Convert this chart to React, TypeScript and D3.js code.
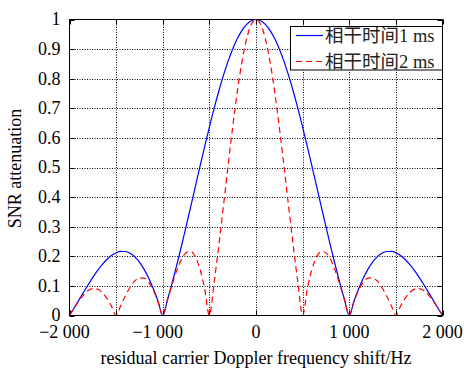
import React from "react";
import * as d3 from "d3";

// Frequency samples (Hz)
const freqs: number[] = [
  -2000, -1950, -1900, -1850, -1800, -1750, -1700, -1650, -1600, -1550,
  -1500, -1450, -1400, -1350, -1300, -1250, -1200, -1150, -1100, -1050,
  -1000, -950, -900, -850, -800, -750, -700, -650, -600, -550,
  -500, -450, -400, -350, -300, -250, -200, -150, -100, -50,
  0, 50, 100, 150, 200, 250, 300, 350, 400, 450,
  500, 550, 600, 650, 700, 750, 800, 850, 900, 950,
  1000, 1050, 1100, 1150, 1200, 1250, 1300, 1350, 1400, 1450,
  1500, 1550, 1600, 1650, 1700, 1750, 1800, 1850, 1900, 1950, 2000,
];

// Coherent time 1 ms
const snr1ms: number[] = [
  0, 0.0255, 0.0518, 0.0781, 0.1039, 0.1286, 0.1515, 0.1719, 0.1892, 0.2028,
  0.2122, 0.2168, 0.2162, 0.2101, 0.1981, 0.1801, 0.1559, 0.1257, 0.0894, 0.0474,
  0, 0.0524, 0.1093, 0.17, 0.2339, 0.3001, 0.3679, 0.4363, 0.5046, 0.5716,
  0.6366, 0.6987, 0.7568, 0.8103, 0.8584, 0.9003, 0.9355, 0.9634, 0.9836, 0.9959,
  1, 0.9959, 0.9836, 0.9634, 0.9355, 0.9003, 0.8584, 0.8103, 0.7568, 0.6987,
  0.6366, 0.5716, 0.5046, 0.4363, 0.3679, 0.3001, 0.2339, 0.17, 0.1093, 0.0524,
  0, 0.0474, 0.0894, 0.1257, 0.1559, 0.1801, 0.1981, 0.2101, 0.2162, 0.2168,
  0.2122, 0.2028, 0.1892, 0.1719, 0.1515, 0.1286, 0.1039, 0.0781, 0.0518, 0.0255, 0,
];

// Coherent time 2 ms
const snr2ms: number[] = [
  0, 0.0252, 0.0492, 0.0696, 0.0841, 0.0909, 0.089, 0.078, 0.0585, 0.0317,
  0, 0.0339, 0.0668, 0.0954, 0.1164, 0.1273, 0.1261, 0.112, 0.085, 0.0468,
  0, 0.0518, 0.1039, 0.1515, 0.1892, 0.2122, 0.2162, 0.1981, 0.1559, 0.0894,
  0, 0.1093, 0.2339, 0.3679, 0.5046, 0.6366, 0.7568, 0.8584, 0.9355, 0.9836,
  1, 0.9836, 0.9355, 0.8584, 0.7568, 0.6366, 0.5046, 0.3679, 0.2339, 0.1093,
  0, 0.0894, 0.1559, 0.1981, 0.2162, 0.2122, 0.1892, 0.1515, 0.1039, 0.0518,
  0, 0.0468, 0.085, 0.112, 0.1261, 0.1273, 0.1164, 0.0954, 0.0668, 0.0339,
  0, 0.0317, 0.0585, 0.078, 0.089, 0.0909, 0.0841, 0.0696, 0.0492, 0.0252, 0,
];

const xTickLabels: [number, string][] = [
  [-2000, "\u22122 000"],
  [-1000, "\u22121 000"],
  [0, "0"],
  [1000, "1 000"],
  [2000, "2 000"],
];
const xGrid: number[] = [-2000, -1500, -1000, -500, 0, 500, 1000, 1500, 2000];
const yTicks: number[] = [0, 0.1, 0.2, 0.3, 0.4, 0.5, 0.6, 0.7, 0.8, 0.9, 1];

const seriesNames: string[] = ["相干时间1 ms", "相干时间2 ms"];
const xTitle = "residual carrier Doppler frequency shift/Hz";
const yTitle = "SNR attenuation";

const W = 464;
const H = 369;
const L = 69.5, R = 442.5, T = 19.5, B = 315.5;
const FONT = "'Liberation Serif', 'Times New Roman', 'Noto Sans CJK SC', serif";

export default function App() {
  const x = d3.scaleLinear().domain([-2000, 2000]).range([L, R]);
  const y = d3.scaleLinear().domain([0, 1]).range([B, T]);
  const line = d3
    .line<number>()
    .x((_, i) => x(freqs[i]))
    .y((d) => y(d))
    .curve(d3.curveMonotoneX);

  const tickLen = 5;
  return (
    <svg
      width={W}
      height={H}
      style={{ position: "absolute", left: 0, top: 0, background: "#fff" }}
      fontFamily={FONT}
    >
      <rect x={0} y={0} width={W} height={H} fill="#fff" />
      {/* grid */}
      {xGrid.slice(1, -1).map((v) => (
        <line key={"gx" + v} x1={Math.round(x(v)) + 0.5} x2={Math.round(x(v)) + 0.5} y1={T} y2={B}
          stroke="#000" strokeWidth={1} strokeDasharray="1,1.5" />
      ))}
      {yTicks.slice(1, -1).map((v) => (
        <line key={"gy" + v} y1={Math.round(y(v)) + 0.5} y2={Math.round(y(v)) + 0.5} x1={L} x2={R}
          stroke="#000" strokeWidth={1} strokeDasharray="1,1.5" />
      ))}
      {/* ticks */}
      {xGrid.map((v) => (
        <g key={"tx" + v}>
          <line x1={Math.round(x(v)) + 0.5} x2={Math.round(x(v)) + 0.5} y1={B} y2={B - tickLen} stroke="#000" />
          <line x1={Math.round(x(v)) + 0.5} x2={Math.round(x(v)) + 0.5} y1={T} y2={T + tickLen} stroke="#000" />
        </g>
      ))}
      {yTicks.map((v) => (
        <g key={"ty" + v}>
          <line y1={Math.round(y(v)) + 0.5} y2={Math.round(y(v)) + 0.5} x1={L} x2={L + tickLen} stroke="#000" />
          <line y1={Math.round(y(v)) + 0.5} y2={Math.round(y(v)) + 0.5} x1={R} x2={R - tickLen} stroke="#000" />
        </g>
      ))}
      {/* series */}
      <path d={line(snr1ms) || ""} fill="none" stroke="#0000ff" strokeWidth={1.2} />
      <path d={line(snr2ms) || ""} fill="none" stroke="#ff0000" strokeWidth={1.2} strokeDasharray="6,4" />
      {/* frame */}
      <rect x={L} y={T} width={R - L} height={B - T} fill="none" stroke="#000" strokeWidth={1} />
      {/* tick labels */}
      {yTicks.map((v) => (
        <text key={"ly" + v} x={L - 9} y={y(v)} dy="0.33em" textAnchor="end" fontSize={18} fill="#000">
          {d3.format("~g")(v)}
        </text>
      ))}
      {xTickLabels.map(([v, s]) => (
        <text key={"lx" + v} x={x(v) + (v < 0 ? -5 : 0)} y={338} textAnchor="middle" fontSize={18} fill="#000">
          {s}
        </text>
      ))}
      {/* axis titles */}
      <text x={(L + R) / 2} y={364} textAnchor="middle" fontSize={18} fill="#000">{xTitle}</text>
      <text transform={`translate(21,${(T + B) / 2 + 1}) rotate(-90)`} textAnchor="middle" fontSize={18} fill="#000">
        {yTitle}
      </text>
      {/* legend */}
      <rect x={290.5} y={26.5} width={152} height={43.5} fill="#fff" stroke="#000" strokeWidth={1} />
      <line x1={296} x2={323} y1={35.5} y2={35.5} stroke="#0000ff" strokeWidth={1.2} />
      <line x1={296} x2={323} y1={61.5} y2={61.5} stroke="#ff0000" strokeWidth={1.2} strokeDasharray="6,4" />
      <text x={325} y={35.5} dy="0.36em" fontSize={18.5} fill="#222">{seriesNames[0]}</text>
      <text x={325} y={61.5} dy="0.36em" fontSize={18.5} fill="#222">{seriesNames[1]}</text>
    </svg>
  );
}
